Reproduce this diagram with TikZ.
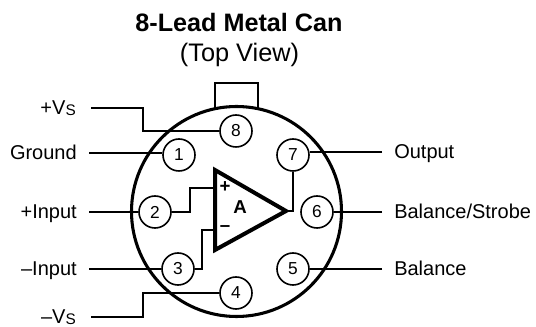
\documentclass[tikz,border=0pt]{standalone}
\usepackage{fontspec}
\setmainfont{Liberation Sans}
\usetikzlibrary{calc}
\tikzset{
    pin/.style={draw, circle, fill=white, line width=1.2pt, minimum size=24pt, inner sep=0pt, font=\fontsize{13}{13}\selectfont},
    pinlabel/.style={inner ysep=0pt, inner xsep=9pt, text height=10pt, text depth=0pt, font=\fontsize{15}{15}\selectfont},
    wire/.style={line width=1.5pt}
}
\newcommand{\vsname}[1]{#1V\raisebox{-0.7pt}{\fontsize{11.5}{11.5}\selectfont S}}
\begin{document}
\begin{tikzpicture}[x=0.75pt, y=-0.75pt]
    \useasboundingbox (0, 0) rectangle (536, 327);
    \node[anchor=base, font=\bfseries\fontsize{18.9}{19}\selectfont] (title) at (239, 32) {8-Lead Metal Can};
    \node[anchor=base, font=\fontsize{19}{19}\selectfont] (subtitle) at (239.5, 62) {(Top View)};

    \coordinate (tabl) at (215, 108);
    \coordinate (tabr) at (258, 108);
    \draw[wire] (tabl) -- ++(0, -25) -| (tabr);
    \node[draw, circle, line width=2.3pt, minimum size=157.5pt, inner sep=0pt] (can) at (236.5, 211.5) {};

    \node[pinlabel, anchor=east, inner xsep=11.25pt] (vplus) at (91, 108) {\vsname{+}};
    \node[pinlabel, anchor=east] (ground) at (89, 153) {Ground};
    \node[pinlabel, anchor=east] (inplus) at (89, 212) {+Input};
    \node[pinlabel, anchor=east] (inminus) at (89, 269) {--Input};
    \node[pinlabel, anchor=east, inner xsep=11.25pt] (vminus) at (91, 317) {\vsname{--}};
    \node[pinlabel, anchor=west] (output) at (382, 152) {Output};
    \node[pinlabel, anchor=west] (strobe) at (382, 212) {Balance/Strobe};
    \node[pinlabel, anchor=west] (balance) at (382, 269) {Balance};

    \foreach \n/\x/\y in {1/179/155, 2/155/212, 3/178/269, 4/236/293, 5/293/269, 6/317/212, 7/293/155, 8/236/131} {
        \node[pin] (p\n) at (\x, \y) {\n};
    }

    \coordinate (ampin1) at (215, 188);
    \coordinate (ampin2) at (215, 230);
    \coordinate (ampout) at (286, 211);
    \draw[line width=3pt, miter limit=10] (215, 170) -- (ampout) -- (215, 250) -- cycle;
    \node[font=\bfseries\fontsize{14}{14}\selectfont, inner sep=0pt] (plus) at (225, 187) {+};
    \node[font=\bfseries\fontsize{14}{14}\selectfont, inner sep=0pt] (minus) at (225, 229) {--};
    \node[font=\bfseries\fontsize{14}{14}\selectfont, inner sep=0pt] (ampname) at (240, 207) {A};

    \draw[wire] (vplus.east) -- ++(52, 0) |- (p8.west);
    \draw[wire] (vminus.east) -- ++(52, 0) |- (p4.west);
    \draw[wire] (ground.east) -- (ground.east -| p1.west);
    \draw[wire] (inplus.east) -- (p2.west);
    \draw[wire] (inminus.east) -- (p3.west);
    \draw[wire] (output.west) -- (output.west -| p7.east);
    \draw[wire] (strobe.west) -- (p6.east);
    \draw[wire] (balance.west) -- (p5.east);
    \draw[wire] (p2.east) -- ++(18, 0) |- (ampin1);
    \draw[wire] (p3.east) -- ++(7, 0) |- (ampin2);
    \draw[wire] (ampout) -| (p7.south);
\end{tikzpicture}
\end{document}
